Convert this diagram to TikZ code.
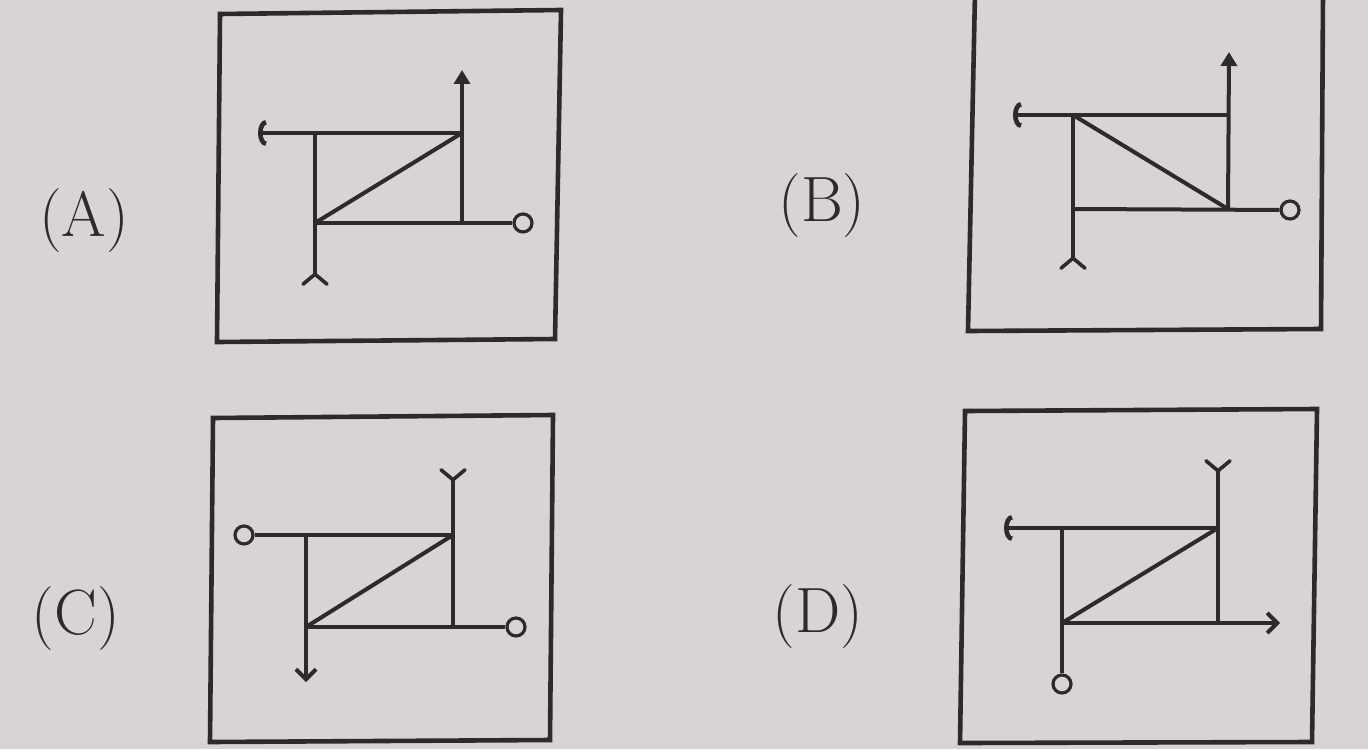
\documentclass[tikz,border=0pt]{standalone}
\usetikzlibrary{arrows.meta}
\definecolor{bg}{RGB}{216,211,214}
\definecolor{ink}{RGB}{45,42,45}
\tikzset{
  panel/.style={draw=ink, line width=2.3pt, line join=miter},
  fig/.style={draw=ink, line width=2pt},
  ring/.style={circle, draw=ink, line width=1.6pt, fill=bg, minimum size=9pt, inner sep=0pt},
  lbl/.style={font=\fontsize{32}{36}\selectfont, text=ink, inner sep=0pt},
  uptip/.style={-{Triangle[width=8pt,length=7pt]}},
  arctip/.style={-{Arc Barb[width=13pt,length=4pt,line width=2.3pt]}},
  forktip/.style={-{Straight Barb[reversed,width=12pt,length=5pt,line width=1.8pt,round]}},
  barbtip/.style={-{Straight Barb[width=10pt,length=5pt,line width=2pt]}}
}
\begin{document}
\begin{tikzpicture}[x=0.5pt,y=-0.5pt]
\fill[bg] (0,0) rectangle (1368,749);
\useasboundingbox (0,0) rectangle (1368,749);

% ---------- labels ----------
\node[lbl] (labA) at (84,221) {(A)};
\node[lbl] (labB) at (822,206) {(B)};
\node[lbl] (labC) at (76,619) {(C)};
\node[lbl] (labD) at (818,617) {(D)};

% ---------- panel frames ----------
\draw[panel] (220,14) -- (561,10) -- (555,339) -- (217,342) -- cycle;
\draw[panel] (975,-8) -- (1323,-8) -- (1321,329) -- (968,331) -- cycle;
\draw[panel] (213,418) -- (553,415) -- (550,740) -- (210,742) -- cycle;
\draw[panel] (965,411) -- (1317,409) -- (1312,742) -- (960,743) -- cycle;

% ---------- panel A ----------
\coordinate (aTL) at (315,133);
\coordinate (aTR) at (462,133);
\coordinate (aBL) at (315,223);
\coordinate (aBR) at (462,223);
\coordinate (aLeft) at (258,133);
\coordinate (aUp) at (462,70);
\coordinate (aDown) at (315,286);
\node[ring] (aRing) at (523,223) {};
\draw[fig,arctip] (aTR) -- (aLeft);
\draw[fig,uptip] (aBR) -- (aUp);
\draw[fig,forktip] (aTL) -- (aDown);
\draw[fig] (aBL) -- (aRing);
\draw[fig] (aBL) -- (aTR);

% ---------- panel B ----------
\coordinate (bTL) at (1073,115);
\coordinate (bTR) at (1228,115);
\coordinate (bBL) at (1073,209);
\coordinate (bBR) at (1228,209);
\coordinate (bLeft) at (1013,115);
\coordinate (bUp) at (1229,52);
\coordinate (bDown) at (1073,270);
\node[ring] (bRing) at (1290,210) {};
\draw[fig,arctip] (bTR) -- (bLeft);
\draw[fig,uptip] (bBR) -- (bUp);
\draw[fig,forktip] (bTL) -- (bDown);
\draw[fig] (bBL) -- (bRing);
\draw[fig] (bTL) -- (bBR);

% ---------- panel C ----------
\coordinate (cTL) at (306,535);
\coordinate (cTR) at (453,535);
\coordinate (cBL) at (306,627);
\coordinate (cBR) at (453,627);
\coordinate (cUp) at (453,468);
\coordinate (cDown) at (306,682);
\node[ring] (cRingL) at (244,535) {};
\node[ring] (cRingR) at (516,627) {};
\draw[fig] (cRingL) -- (cTR);
\draw[fig,forktip] (cBR) -- (cUp);
\draw[fig,barbtip] (cTL) -- (cDown);
\draw[fig] (cBL) -- (cRingR);
\draw[fig] (cBL) -- (cTR);

% ---------- panel D ----------
\coordinate (dTL) at (1062,528);
\coordinate (dTR) at (1218,528);
\coordinate (dBL) at (1062,623);
\coordinate (dBR) at (1218,623);
\coordinate (dLeft) at (1004,528);
\coordinate (dUp) at (1218,459);
\coordinate (dRight) at (1280,623);
\node[ring] (dRing) at (1062,684) {};
\draw[fig,arctip] (dTR) -- (dLeft);
\draw[fig,forktip] (dBR) -- (dUp);
\draw[fig] (dTL) -- (dRing);
\draw[fig,barbtip] (dBL) -- (dRight);
\draw[fig] (dBL) -- (dTR);
\end{tikzpicture}
\end{document}
